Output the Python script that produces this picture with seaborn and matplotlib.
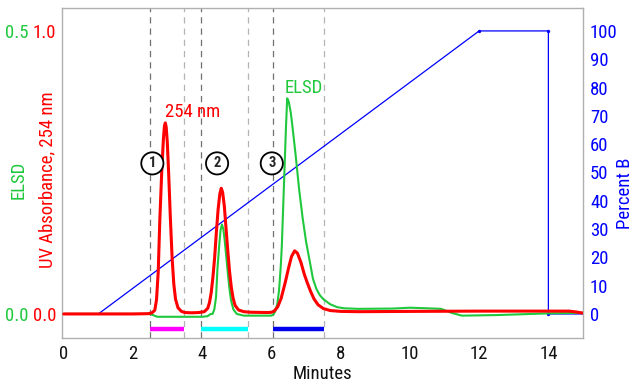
import matplotlib
matplotlib.use("Agg")
import matplotlib.pyplot as plt
from matplotlib import font_manager
import seaborn as sns

# ---------------- data ----------------
uv_time = [0.0, 1.0, 2.0, 2.45, 2.55, 2.63, 2.68, 2.73, 2.775, 2.83, 2.88, 2.91, 2.935,
           2.96, 2.99, 3.03, 3.08, 3.13, 3.18, 3.23, 3.3, 3.4, 3.5, 3.7, 3.9,
           4.06, 4.16, 4.21, 4.26, 4.31, 4.36, 4.41, 4.46, 4.51, 4.55, 4.59, 4.64,
           4.69, 4.74, 4.79, 4.84, 4.89, 4.95, 5.05, 5.2, 5.4, 5.9,
           6.0, 6.08, 6.18, 6.28, 6.4, 6.5, 6.58, 6.67, 6.75, 6.85, 6.95, 7.03,
           7.13, 7.23, 7.35, 7.5, 7.7, 8.0, 8.5, 10.0, 12.0, 14.0, 14.6, 14.8, 15.0]
uv_abs = [0.0, 0.0, 0.0, 0.001, 0.004, 0.013, 0.05, 0.15, 0.33, 0.5, 0.62, 0.665, 0.675,
          0.66, 0.61, 0.5, 0.34, 0.2, 0.105, 0.052, 0.022, 0.009, 0.005, 0.004, 0.005,
          0.008, 0.02, 0.04, 0.075, 0.13, 0.2, 0.29, 0.37, 0.425, 0.444, 0.43, 0.38,
          0.3, 0.222, 0.15, 0.095, 0.057, 0.03, 0.014, 0.008, 0.006, 0.005,
          0.006, 0.01, 0.025, 0.055, 0.112, 0.165, 0.203, 0.223, 0.215, 0.183, 0.14, 0.112,
          0.08, 0.053, 0.032, 0.019, 0.012, 0.009, 0.008, 0.009, 0.01, 0.01, 0.01, 0.007, 0.003]

elsd_time = [0.0, 1.0, 2.0, 2.5, 2.7, 3.5, 4.0, 4.15, 4.25, 4.3, 4.35, 4.4, 4.44, 4.49,
             4.53, 4.57, 4.61, 4.65, 4.69, 4.73, 4.78, 4.83, 4.9, 5.0, 5.2, 5.6,
             6.0, 6.07, 6.12, 6.17, 6.22, 6.27, 6.3, 6.34, 6.38, 6.42, 6.455, 6.5,
             6.56, 6.6, 6.7, 6.8, 6.9, 7.0, 7.1, 7.2, 7.3, 7.4, 7.5, 7.7, 7.9, 8.1,
             8.5, 9.5, 10.0, 10.5, 10.9, 11.2, 11.5, 12.5, 14.0, 15.0]
elsd_signal = [0.0, 0.0, 0.0, 0.0, -0.005, -0.005, -0.005, -0.004, 0.0, 0.0, 0.008, 0.03,
               0.079, 0.12, 0.148, 0.158, 0.15, 0.13, 0.105, 0.079, 0.048, 0.025, 0.008,
               0.0, -0.003, -0.003,
               -0.003, 0.0, 0.006, 0.018, 0.042, 0.085, 0.12, 0.19, 0.26, 0.33, 0.381, 0.375,
               0.355, 0.335, 0.28, 0.22, 0.17, 0.128, 0.095, 0.062, 0.044, 0.033, 0.026,
               0.017, 0.012, 0.01, 0.009, 0.0095, 0.011, 0.01, 0.009, 0.002, -0.003,
               -0.002, 0.001, 0.002]

grad_time = [0.0, 1.0, 12.0, 14.0, 14.0, 15.0]
grad_pct_b = [0, 0, 100, 100, 0, 0]
grad_marker_time = [12.0, 14.0, 14.0]
grad_marker_pct = [100, 100, 0]

fraction_bounds = [(2.5, 3.48), (3.97, 5.32), (6.04, 7.53)]
fraction_colors = ["#ff00ff", "#00ffff", "#0000ee"]
cut_dark = [2.5, 3.97, 6.04]
cut_light = [3.48, 5.32, 7.53]

peak_ids = ["1", "2", "3"]
peak_label_time = [2.56, 4.43, 6.01]

x_ticks = [0, 2, 4, 6, 8, 10, 12, 14]
pct_ticks = [0, 10, 20, 30, 40, 50, 60, 70, 80, 90, 100]

RED = "#ff0000"
GREEN = "#1fc83c"
BLUE = "#0000ff"

# pick a condensed face if one exists, else Roboto
_names = sorted({f.name for f in font_manager.fontManager.ttflist})
_cond = [n for n in _names if ("Condensed" in n or "Narrow" in n)]
_pref = [n for n in _cond if "Roboto" in n] + [n for n in _cond if "Sans" in n] + _cond
BASE = _pref[0] if _pref else "Roboto"
FONT = [BASE, "DejaVu Sans"]
FS = 13.5 if _pref else 12

sns.set_theme(style="white")
plt.rcParams["font.family"] = FONT

fig = plt.figure(figsize=(6.33, 3.83), dpi=100)
ax = fig.add_axes([62 / 633, 45 / 383, 521 / 633, 330 / 383])
ax_e = ax.twinx()
ax_uv = ax.twinx()

# cut lines
for xv in cut_dark:
    ax.axvline(xv, color="#707070", lw=0.9, dashes=(5, 4), zorder=1)
for xv in cut_light:
    ax.axvline(xv, color="#b4b4b4", lw=0.9, dashes=(5, 4), zorder=1)

# gradient
sns.lineplot(x=grad_time, y=grad_pct_b, ax=ax, color=BLUE, lw=0.9,
             estimator=None, sort=False, legend=False, zorder=2)
sns.scatterplot(x=grad_marker_time, y=grad_marker_pct, ax=ax, color=BLUE, s=5,
                edgecolor=BLUE, legend=False, zorder=3)

# ELSD
sns.lineplot(x=elsd_time, y=elsd_signal, ax=ax_e, color=GREEN, lw=1.5,
             estimator=None, sort=False, legend=False)
# UV
sns.lineplot(x=uv_time, y=uv_abs, ax=ax_uv, color=RED, lw=2.2,
             estimator=None, sort=False, legend=False)

# fraction bars
for (a, b), c in zip(fraction_bounds, fraction_colors):
    ax_uv.hlines(-0.053, a, b, color=c, lw=3.2)

# texts
ax_uv.text(2.92, 0.714, "254 nm", color=RED, fontsize=FS, ha="left", va="center")
ax_uv.text(6.38, 0.80, "ELSD", color=GREEN, fontsize=FS, ha="left", va="center")
for pid, tx in zip(peak_ids, peak_label_time):
    ax_uv.text(tx, 0.532, pid, fontsize=10.5, fontweight="bold", ha="center", va="center",
               bbox=dict(boxstyle="circle,pad=0.28", fc="white", ec="black", lw=1.3),
               zorder=10)

# limits
ax.set_xlim(-0.05, 15.0)
ax.set_ylim(-8.5, 108.1)
ax_uv.set_ylim(-0.085, 1.081)
ax_e.set_ylim(-0.0425, 0.5405)

# x axis
ax.set_xticks(x_ticks)
ax.set_xticklabels([str(v) for v in x_ticks])
ax.tick_params(axis="x", length=0, pad=5, labelsize=FS, labelcolor="#111111")
ax.set_xlabel("Minutes", fontsize=FS, labelpad=1.5, color="#111111")

# right percent B axis
ax.yaxis.tick_right()
ax.yaxis.set_label_position("right")
ax.set_yticks(pct_ticks)
ax.set_yticklabels([str(v) for v in pct_ticks])
ax.tick_params(axis="y", length=0, pad=5, labelsize=FS, labelcolor=BLUE)
ax.set_ylabel("Percent B", fontsize=FS, color=BLUE)
ax.yaxis.set_label_coords(1.064, 0.44)

# UV axis (left, inner)
ax_uv.yaxis.tick_left()
ax_uv.yaxis.set_label_position("left")
ax_uv.set_yticks([0.0, 1.0])
ax_uv.set_yticklabels(["0.0", "1.0"])
ax_uv.tick_params(axis="y", length=0, pad=4, labelsize=FS, labelcolor=RED)
ax_uv.set_ylabel("UV Absorbance, 254 nm", fontsize=FS, color=RED)
ax_uv.yaxis.set_label_coords(-0.01, 0.48)

# ELSD axis (left, outer)
ax_e.yaxis.tick_left()
ax_e.yaxis.set_label_position("left")
ax_e.set_yticks([0.0, 0.5])
ax_e.set_yticklabels(["0.0", "0.5"])
ax_e.tick_params(axis="y", length=0, pad=24, labelsize=FS, labelcolor=GREEN)
ax_e.set_ylabel("ELSD", fontsize=FS, color=GREEN)
ax_e.yaxis.set_label_coords(-0.066, 0.48)

for a in (ax_e, ax_uv):
    for s in a.spines.values():
        s.set_visible(False)
for s in ax.spines.values():
    s.set_visible(True)
    s.set_color("#b0b0b0")
    s.set_linewidth(1.0)

fig.savefig("out.png", dpi=100)
